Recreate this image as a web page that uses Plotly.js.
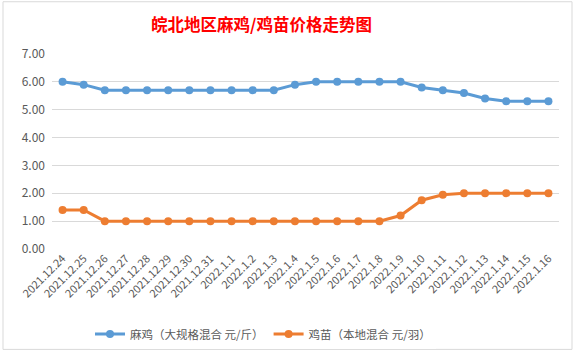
<!DOCTYPE html>
<html>
<head>
<meta charset="utf-8">
<script src="https://cdn.plot.ly/plotly-3.0.1.min.js"></script>
<style>html,body{margin:0;padding:0;background:#fff;}#chart{width:577px;height:354px;}</style>
</head>
<body>
<div id="chart"></div>
<script>
const categories = ["2021.12.24","2021.12.25","2021.12.26","2021.12.27","2021.12.28","2021.12.29","2021.12.30","2021.12.31","2022.1.1","2022.1.2","2022.1.3","2022.1.4","2022.1.5","2022.1.6","2022.1.7","2022.1.8","2022.1.9","2022.1.10","2022.1.11","2022.1.12","2022.1.13","2022.1.14","2022.1.15","2022.1.16"];
const maji = [6.0,5.9,5.7,5.7,5.7,5.7,5.7,5.7,5.7,5.7,5.7,5.9,6.0,6.0,6.0,6.0,6.0,5.8,5.7,5.6,5.4,5.3,5.3,5.3];
const jimiao = [1.4,1.4,1.0,1.0,1.0,1.0,1.0,1.0,1.0,1.0,1.0,1.0,1.0,1.0,1.0,1.0,1.2,1.75,1.95,2.0,2.0,2.0,2.0,2.0];
const seriesNames = ["麻鸡（大规格混合 元/斤）","鸡苗（本地混合 元/羽）"];
const yTicks = [0,1,2,3,4,5,6,7];

const font = "'Noto Sans CJK SC', 'Noto Sans', sans-serif";
const traces = [
  {x: categories, y: maji, name: seriesNames[0], type: 'scatter', mode: 'lines+markers',
   line: {color: '#5B9BD5', width: 3}, marker: {color: '#5B9BD5', size: 8}},
  {x: categories, y: jimiao, name: seriesNames[1], type: 'scatter', mode: 'lines+markers',
   line: {color: '#ED7D31', width: 3}, marker: {color: '#ED7D31', size: 8}}
];
const plotL = 52, plotR = 559, plotT = 54.3, plotB = 249.5;
const pw = plotR - plotL, ph = plotB - plotT;
const layout = {
  width: 577, height: 354,
  margin: {l: plotL, r: 577 - plotR, t: plotT, b: 354 - plotB},
  paper_bgcolor: '#fff', plot_bgcolor: '#fff',
  showlegend: true,
  title: {text: '<b>皖北地区麻鸡/鸡苗价格走势图</b>', font: {family: font, size: 16.5, color: '#FF0000'},
          x: 261.5/577, xanchor: 'center', xref: 'container', y: 1 - 25/354, yanchor: 'middle', yref: 'container'},
  xaxis: {type: 'category', tickangle: -45, tickfont: {family: font, size: 11, color: '#595959'},
          showgrid: false, zeroline: false, showline: false, ticks: '', range: [-0.5, 23.5], fixedrange: true},
  yaxis: {range: [0, 7], tickvals: yTicks, tickformat: '.2f', tickfont: {family: font, size: 12, color: '#595959'},
          gridcolor: '#D9D9D9', gridwidth: 1, zeroline: false, showline: false, ticks: '', ticklabelstandoff: 6, fixedrange: true},
  legend: {orientation: 'h', x: 263/577, xanchor: 'center', xref: 'container', y: 1 - 334/354, yanchor: 'middle', yref: 'container',
           font: {family: font, size: 11.5, color: '#595959'}, itemwidth: 30, tracegroupgap: 0},
  shapes: [{type: 'rect', xref: 'paper', yref: 'paper', x0: (3 - plotL)/pw, x1: (572 - plotL)/pw, y0: -(350 - plotB)/ph, y1: (plotB - 2)/ph,
            line: {color: '#D9D9D9', width: 1}, fillcolor: 'rgba(0,0,0,0)', layer: 'below'}]
};
Plotly.newPlot('chart', traces, layout, {displayModeBar: false, staticPlot: true});
</script>
</body>
</html>
